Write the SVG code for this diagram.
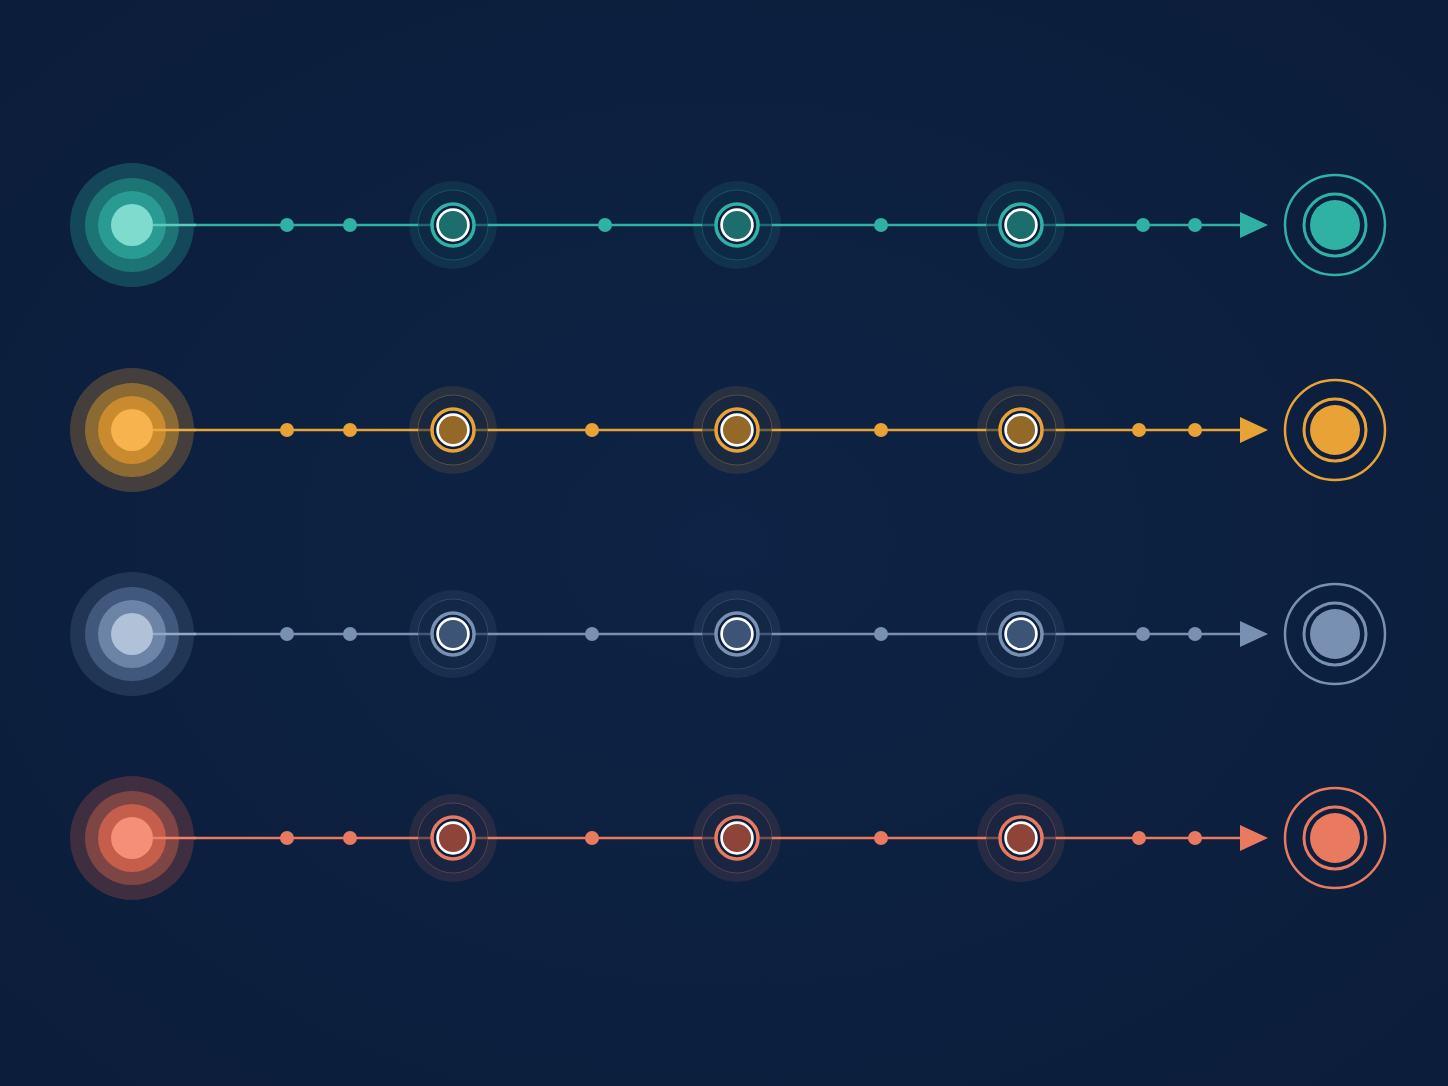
<svg xmlns="http://www.w3.org/2000/svg" width="1448" height="1086" viewBox="0 0 1448 1086">
<defs>
<style>
.line{stroke-width:2.5;fill:none}
.halo{opacity:0.12}
.halo-in{fill:#0c1f3e;fill-opacity:0.5;stroke-width:1;stroke-opacity:0.28}
.ring{fill:#0c1f3e;stroke-width:3.5}
.white{stroke:#ffffff;stroke-width:2.7}
.end-outer{fill:none;stroke-width:2.5}
.end-inner{fill:#0c1f3e;stroke-width:3}
.t .cf{fill:#2fb1a4}.o .cf{fill:#e9a236}.s .cf{fill:#7891b3}.r .cf{fill:#e97a60}
.t .cs{stroke:#2fb1a4}.o .cs{stroke:#e9a236}.s .cs{stroke:#7891b3}.r .cs{stroke:#e97a60}
.t .mid{fill:#1b6e6d}.o .mid{fill:#946827}.s .mid{fill:#3c5476}.r .mid{fill:#8f4439}
</style>
<radialGradient id="vig" cx="50%" cy="50%" r="70%">
<stop offset="0" stop-color="#0e2345"/>
<stop offset="1" stop-color="#0b1d3a"/>
</radialGradient>
</defs>
<rect width="1448" height="1086" fill="url(#vig)"/>

<g id="connectors">
<g class="t"><line class="line cs" x1="153" y1="225" x2="1242" y2="225"/><polygon class="cf" points="1240,212 1268,225 1240,238"/>
<circle class="cf" cx="287" cy="225" r="7"/><circle class="cf" cx="350" cy="225" r="7"/><circle class="cf" cx="605" cy="225" r="7"/><circle class="cf" cx="881" cy="225" r="7"/><circle class="cf" cx="1143" cy="225" r="7"/><circle class="cf" cx="1195" cy="225" r="7"/></g>
<g class="o"><line class="line cs" x1="153" y1="430" x2="1242" y2="430"/><polygon class="cf" points="1240,417 1268,430 1240,443"/>
<circle class="cf" cx="287" cy="430" r="7"/><circle class="cf" cx="350" cy="430" r="7"/><circle class="cf" cx="592" cy="430" r="7"/><circle class="cf" cx="881" cy="430" r="7"/><circle class="cf" cx="1139" cy="430" r="7"/><circle class="cf" cx="1195" cy="430" r="7"/></g>
<g class="s"><line class="line cs" x1="153" y1="634" x2="1242" y2="634"/><polygon class="cf" points="1240,621 1268,634 1240,647"/>
<circle class="cf" cx="287" cy="634" r="7"/><circle class="cf" cx="350" cy="634" r="7"/><circle class="cf" cx="592" cy="634" r="7"/><circle class="cf" cx="881" cy="634" r="7"/><circle class="cf" cx="1143" cy="634" r="7"/><circle class="cf" cx="1195" cy="634" r="7"/></g>
<g class="r"><line class="line cs" x1="153" y1="838" x2="1242" y2="838"/><polygon class="cf" points="1240,825 1268,838 1240,851"/>
<circle class="cf" cx="287" cy="838" r="7"/><circle class="cf" cx="350" cy="838" r="7"/><circle class="cf" cx="592" cy="838" r="7"/><circle class="cf" cx="881" cy="838" r="7"/><circle class="cf" cx="1139" cy="838" r="7"/><circle class="cf" cx="1195" cy="838" r="7"/></g>
</g>

<g id="start-teal"><circle cx="132" cy="225" r="62" fill="#15475a"/><circle cx="132" cy="225" r="47" fill="#1d7474"/><circle cx="132" cy="225" r="34" fill="#2a9b92"/><circle cx="132" cy="225" r="21" fill="#7fdbcd"/><line x1="153" y1="225" x2="196" y2="225" stroke="#5ccabc" stroke-width="2.5"/></g>
<g id="start-orange"><circle cx="132" cy="430" r="62" fill="#443f3c"/><circle cx="132" cy="430" r="47" fill="#8b6a33"/><circle cx="132" cy="430" r="34" fill="#c98b2e"/><circle cx="132" cy="430" r="21" fill="#f7b34d"/><line x1="153" y1="430" x2="196" y2="430" stroke="#eda93c" stroke-width="2.5"/></g>
<g id="start-slate"><circle cx="132" cy="634" r="62" fill="#213555"/><circle cx="132" cy="634" r="47" fill="#40587b"/><circle cx="132" cy="634" r="34" fill="#6c84a6"/><circle cx="132" cy="634" r="21" fill="#b1c1d8"/><line x1="153" y1="634" x2="196" y2="634" stroke="#94a9c6" stroke-width="2.5"/></g>
<g id="start-coral"><circle cx="132" cy="838" r="62" fill="#3f2d40"/><circle cx="132" cy="838" r="47" fill="#7e4545"/><circle cx="132" cy="838" r="34" fill="#c55f4c"/><circle cx="132" cy="838" r="21" fill="#f58f78"/><line x1="153" y1="838" x2="196" y2="838" stroke="#ef8268" stroke-width="2.5"/></g>

<g class="t">
<g id="teal-m1"><circle class="cf halo" cx="453" cy="225" r="44"/><circle class="cs halo-in" cx="453" cy="225" r="35"/><circle class="cs ring" cx="453" cy="225" r="21"/><circle class="mid white" cx="453" cy="225" r="15.4"/></g>
<g id="teal-m2"><circle class="cf halo" cx="737" cy="225" r="44"/><circle class="cs halo-in" cx="737" cy="225" r="35"/><circle class="cs ring" cx="737" cy="225" r="21"/><circle class="mid white" cx="737" cy="225" r="15.4"/></g>
<g id="teal-m3"><circle class="cf halo" cx="1021" cy="225" r="44"/><circle class="cs halo-in" cx="1021" cy="225" r="35"/><circle class="cs ring" cx="1021" cy="225" r="21"/><circle class="mid white" cx="1021" cy="225" r="15.4"/></g>
<g id="teal-end"><circle class="cs end-outer" cx="1335" cy="225" r="50"/><circle class="cs end-inner" cx="1335" cy="225" r="31"/><circle class="cf" cx="1335" cy="225" r="25"/></g>
</g>
<g class="o">
<g id="orange-m1"><circle class="cf halo" cx="453" cy="430" r="44"/><circle class="cs halo-in" cx="453" cy="430" r="35"/><circle class="cs ring" cx="453" cy="430" r="21"/><circle class="mid white" cx="453" cy="430" r="15.4"/></g>
<g id="orange-m2"><circle class="cf halo" cx="737" cy="430" r="44"/><circle class="cs halo-in" cx="737" cy="430" r="35"/><circle class="cs ring" cx="737" cy="430" r="21"/><circle class="mid white" cx="737" cy="430" r="15.4"/></g>
<g id="orange-m3"><circle class="cf halo" cx="1021" cy="430" r="44"/><circle class="cs halo-in" cx="1021" cy="430" r="35"/><circle class="cs ring" cx="1021" cy="430" r="21"/><circle class="mid white" cx="1021" cy="430" r="15.4"/></g>
<g id="orange-end"><circle class="cs end-outer" cx="1335" cy="430" r="50"/><circle class="cs end-inner" cx="1335" cy="430" r="31"/><circle class="cf" cx="1335" cy="430" r="25"/></g>
</g>
<g class="s">
<g id="slate-m1"><circle class="cf halo" cx="453" cy="634" r="44"/><circle class="cs halo-in" cx="453" cy="634" r="35"/><circle class="cs ring" cx="453" cy="634" r="21"/><circle class="mid white" cx="453" cy="634" r="15.4"/></g>
<g id="slate-m2"><circle class="cf halo" cx="737" cy="634" r="44"/><circle class="cs halo-in" cx="737" cy="634" r="35"/><circle class="cs ring" cx="737" cy="634" r="21"/><circle class="mid white" cx="737" cy="634" r="15.4"/></g>
<g id="slate-m3"><circle class="cf halo" cx="1021" cy="634" r="44"/><circle class="cs halo-in" cx="1021" cy="634" r="35"/><circle class="cs ring" cx="1021" cy="634" r="21"/><circle class="mid white" cx="1021" cy="634" r="15.4"/></g>
<g id="slate-end"><circle class="cs end-outer" cx="1335" cy="634" r="50"/><circle class="cs end-inner" cx="1335" cy="634" r="31"/><circle class="cf" cx="1335" cy="634" r="25"/></g>
</g>
<g class="r">
<g id="coral-m1"><circle class="cf halo" cx="453" cy="838" r="44"/><circle class="cs halo-in" cx="453" cy="838" r="35"/><circle class="cs ring" cx="453" cy="838" r="21"/><circle class="mid white" cx="453" cy="838" r="15.4"/></g>
<g id="coral-m2"><circle class="cf halo" cx="737" cy="838" r="44"/><circle class="cs halo-in" cx="737" cy="838" r="35"/><circle class="cs ring" cx="737" cy="838" r="21"/><circle class="mid white" cx="737" cy="838" r="15.4"/></g>
<g id="coral-m3"><circle class="cf halo" cx="1021" cy="838" r="44"/><circle class="cs halo-in" cx="1021" cy="838" r="35"/><circle class="cs ring" cx="1021" cy="838" r="21"/><circle class="mid white" cx="1021" cy="838" r="15.4"/></g>
<g id="coral-end"><circle class="cs end-outer" cx="1335" cy="838" r="50"/><circle class="cs end-inner" cx="1335" cy="838" r="31"/><circle class="cf" cx="1335" cy="838" r="25"/></g>
</g>
</svg>
